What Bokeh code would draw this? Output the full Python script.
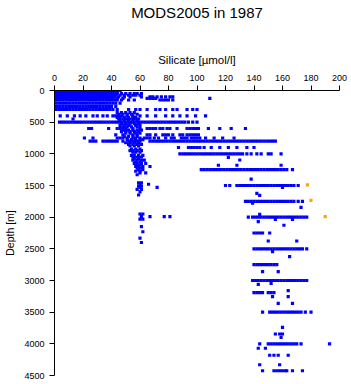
from bokeh.plotting import figure
from bokeh.models import FixedTicker, ColumnDataSource, LinearAxis
from bokeh.embed import file_html
from bokeh.resources import INLINE

# ---------------- data: silicate [umol/l] at sampled depths [m] ----------------
si_d0 = [0.5, 2, 3.5, 5, 7, 9, 11, 13, 15, 17, 19, 21, 23, 25, 27, 29, 31, 33, 35, 37, 39, 41, 43, 46]
si_d10 = [1, 2.5, 4, 6, 8, 10, 12, 14, 16, 18, 20, 22, 24, 26, 28, 30, 32, 34, 36, 38, 40, 42]
si_d20 = [0.5, 2, 4, 6, 8, 10, 12, 14, 16, 18, 20, 22, 24, 26, 28, 30, 32, 34, 36, 38, 40, 43]
si_d30 = [1, 3, 5, 7, 9, 11, 13, 15, 17, 19, 21, 23, 25, 27, 29, 31, 33, 35, 37, 39, 41, 44]
si_d50 = [0.5, 2, 4, 6, 8, 10, 12, 14, 16, 18, 20, 22, 24, 26, 28, 30, 32, 34, 36, 38, 40, 42, 44, 47, 50, 53, 56, 58, 61]
si_d75 = [1, 3, 5, 7, 9, 11, 13, 15, 17, 19, 21, 23, 25, 27, 29, 31, 33, 35, 37, 39, 41, 43, 46, 49, 52, 55, 57, 60]
si_d100 = [0.5, 2, 4, 6, 8, 10, 12, 14, 16, 18, 20, 22, 24, 26, 28, 30, 32, 34, 36, 38, 40, 42, 45, 49, 53, 61, 67, 69, 72, 75, 78, 81, 83]
si_d125 = [1, 3, 5, 7, 9, 11, 13, 15, 17, 19, 21, 23, 25, 27, 29, 31, 33, 35, 37, 39, 41, 44, 48, 65, 67, 69, 71, 109]
si_d150 = [0.5, 2, 4, 6, 8, 10, 12, 14, 16, 18, 20, 22, 24, 26, 28, 30, 32, 34, 36, 38, 40, 42, 44, 47, 52, 56, 74, 76, 78, 80, 83]
si_d200 = [1, 3, 5, 7, 9, 11, 13, 15, 17, 19, 21, 23, 25, 27, 29, 31, 33, 35, 37, 39, 41, 43, 46]
si_d250 = [0.5, 2, 4, 6, 8, 10, 12, 14, 16, 18, 20, 22, 24, 26, 28, 30, 32, 34, 36, 38, 40, 43]
si_d300 = [1, 3, 5, 7, 9, 11, 13, 15, 17, 19, 21, 23, 25, 27, 29, 31, 33, 35, 37, 39, 41, 44,
           52, 57, 60, 65, 71, 74, 78, 83, 86, 93, 97, 100]
si_d400 = [4, 9, 14, 18, 22, 27, 30, 34, 37, 41, 43, 45, 47, 51, 55, 60, 65, 71, 78, 83, 88, 93, 99, 106]
si_d500 = [3.5, 5.5, 7.5, 9.5, 11.5, 13.5, 15.5, 17.5, 19.5, 21.5, 23.5, 25.5, 27.5, 29.5, 31.5,
           33.5, 35.5, 37.5, 39.5, 41.5, 43.5, 45.5, 47.5, 49.5, 51.5, 53.5, 55.5, 57.5, 59.5, 61.5,
           63.5, 65.5, 67.5, 69.5, 71.5, 73.5, 75.5, 77.5, 79.5, 81.5, 83.5, 85.5, 87.5, 89.5, 91.5,
           94, 97, 100]
si_d600 = [24, 26, 38, 44, 46, 48, 50, 55, 60, 65, 67, 69, 71, 74, 76, 79, 81, 86, 93, 95, 97, 99, 101,
           108, 116, 124, 134]
si_d700 = [43, 48, 55, 58, 65, 67, 71, 76, 78, 80, 83, 88, 90, 93, 95, 97, 99, 101]
si_d750 = [21, 27, 44, 46, 48, 51, 56, 60, 63, 65, 67, 70, 73, 78, 82, 84, 89, 91, 93, 96, 98, 100, 102,
           106, 112, 118, 126]
si_d800 = [25, 27, 29, 34, 36, 38, 40, 42, 44, 48, 52, 54, 56, 58, 60, 67, 69, 71, 73, 75, 77, 79,
           81, 83, 85, 87, 89, 91, 93, 95, 97, 99, 101, 103, 105, 107, 109, 111, 113, 115, 117, 119,
           121, 123, 125, 127, 129, 131, 133, 135, 137, 139, 141, 143, 145, 147, 149, 151, 153, 155]
si_d900 = [87, 94, 96, 98, 100, 102, 105, 110, 116, 122, 128, 135, 140]
si_d1000 = [88, 90, 92, 94, 96, 98, 100, 102, 104, 106, 108, 110, 112, 114, 116, 118, 120, 122, 124,
            126, 128, 130, 132, 135, 138, 142, 145, 150, 152, 159]
si_d1250 = [103, 105, 107, 109, 111, 113, 115, 117, 119, 121, 123, 125, 127, 129, 131, 133, 135, 137,
            139, 141, 143, 145, 147, 149, 151, 153, 155, 157, 159, 161, 163, 167]
si_d1500 = [120, 123, 128, 130, 132, 134, 136, 138, 140, 142, 144, 146, 148, 150, 152, 154, 156, 158,
            160, 162, 164, 166, 168, 171]
si_d1750 = [134, 136, 138, 140, 142, 144, 146, 148, 150, 152, 154, 156, 158, 160, 162, 164, 166, 168, 171, 174]
si_d2000 = [136, 139, 141, 143, 145, 147, 149, 151, 153, 155, 157, 159, 161, 163, 165, 167, 169, 171,
            173, 175, 177]
si_d2500 = [140, 142, 144, 146, 148, 150, 152, 154, 156, 158, 160, 162, 164, 166, 168, 170, 172, 174, 177]
si_d2750 = [140, 142, 144, 146, 148, 150, 152, 154, 156]
si_d3000 = [139, 141, 143, 145, 147, 149, 151, 153, 155, 157, 159, 161, 163, 165, 167, 169, 171, 173,
            175, 177]
si_d3500 = [146, 151, 153, 155, 157, 159, 161, 163, 165, 167, 169, 171, 173, 176, 180]
si_d4000 = [144, 150, 152, 154, 156, 158, 160, 162, 164, 166, 168, 170, 173, 193]
si_d4425 = [146, 154, 156, 158, 160, 162, 163, 167, 174]

row_depths = [0, 10, 20, 30, 50, 75, 100, 125, 150, 200, 250, 300, 400, 500, 600, 700, 750, 800,
              900, 1000, 1250, 1500, 1750, 2000, 2500, 2750, 3000, 3500, 4000, 4425]
row_values = [si_d0, si_d10, si_d20, si_d30, si_d50, si_d75, si_d100, si_d125, si_d150, si_d200,
              si_d250, si_d300, si_d400, si_d500, si_d600, si_d700, si_d750, si_d800, si_d900,
              si_d1000, si_d1250, si_d1500, si_d1750, si_d2000, si_d2500, si_d2750, si_d3000,
              si_d3500, si_d4000, si_d4425]

# mid-depth column of samples (silicate ~45-65)
tail_si = [44, 47, 50, 53, 56, 45, 48, 51, 54, 58, 44, 46, 49, 52, 55, 57, 45, 48, 50, 53, 56, 59,
           46, 49, 52, 55, 58, 47, 50, 53, 56, 59, 46, 49, 52, 57, 60, 48, 51, 54, 58, 49, 52, 55,
           58, 61, 47, 50, 53, 56, 59, 50, 53, 57, 60, 49, 52, 55, 58, 51, 54, 57, 60, 62, 50, 53,
           56, 59, 52, 55, 58, 61, 53, 56, 59, 54, 57, 60, 53, 55, 58, 61, 55, 57, 60, 54, 56, 59,
           62, 55, 58, 61, 56, 59, 55, 58, 61, 63, 57, 60, 56, 58, 61, 64, 58, 60, 57, 59, 62, 67,
           58, 61, 59, 62, 57, 60, 60, 64, 58, 59, 61, 60, 66, 59, 61, 60, 72, 58, 61, 60, 59,
           60, 62, 61, 67, 77, 81, 60, 62, 61, 62, 60, 61]
tail_depth = [350, 350, 350, 350, 350, 375, 375, 375, 375, 375, 425, 425, 425, 425, 425, 425,
              450, 450, 450, 450, 450, 450, 475, 475, 475, 475, 475, 525, 525, 525, 525, 525,
              550, 550, 550, 550, 550, 575, 575, 575, 575, 625, 625, 625, 625, 625, 650, 650,
              650, 650, 650, 675, 675, 675, 675, 725, 725, 725, 725, 775, 775, 775, 775, 775,
              825, 825, 825, 825, 850, 850, 850, 850, 875, 875, 875, 925, 925, 925, 950, 950,
              950, 950, 975, 975, 975, 1025, 1025, 1025, 1025, 1050, 1050, 1050, 1075, 1075,
              1100, 1100, 1100, 1100, 1125, 1125, 1150, 1150, 1150, 1150, 1175, 1175, 1200,
              1200, 1200, 1200, 1225, 1225, 1250, 1250, 1275, 1275, 1300, 1300, 1330, 1460,
              1460, 1480, 1480, 1510, 1510, 1530, 1530, 1560, 1560, 1600, 1650, 1950, 1950,
              1990, 1990, 1990, 1990, 2030, 2030, 2150, 2230, 2330, 2400]

# scattered single samples in the deep water
extra_si = [13, 122, 130, 115, 128, 159, 138, 160, 142, 144, 139, 173, 144, 155, 167, 143, 161,
            140, 142, 144, 146, 151, 150, 170, 153, 165, 146, 157, 152, 143, 164, 140, 142, 144,
            146, 150, 152, 154, 153, 164, 157, 167, 160, 155, 158, 160, 159, 143, 148, 151, 154,
            157, 164, 144, 158]
extra_depth = [450, 1055, 1097, 1180, 1180, 1180, 1400, 1530, 1625, 1655, 1780, 1845, 1955,
               2037, 2037, 2071, 2128, 2250, 2250, 2250, 2250, 2250, 2376, 2376, 2545, 2624,
               2860, 2860, 3044, 3060, 3160, 3192, 3192, 3192, 3192, 3192, 3192, 3192, 3255,
               3255, 3360, 3360, 3740, 3845, 3845, 3845, 3897, 4070, 4070, 4180, 4180, 4180,
               4180, 4330, 4330]

# flagged samples (orange)
flag_si = [177.5, 180, 190]
flag_depth = [1490, 1735, 1990]

x_ticks = [0, 20, 40, 60, 80, 100, 120, 140, 160, 180, 200]
y_ticks = [0, 500, 1000, 1500, 2000, 2500, 3000, 3500, 4000, 4500]
title_text = "MODS2005 in 1987"

# ---------------- build ----------------
xs, ys = [], []
for d, vals in zip(row_depths, row_values):
    xs.extend(vals)
    ys.extend([d] * len(vals))
xs.extend(tail_si); ys.extend(tail_depth)
xs.extend(extra_si); ys.extend(extra_depth)

src = ColumnDataSource(dict(x=xs, y=ys))
src_flag = ColumnDataSource(dict(x=flag_si, y=flag_depth))

FONT = "Liberation Sans"

p = figure(frame_width=285, frame_height=285, x_range=(0, 200), y_range=(4500, 0),
           x_axis_location="above", output_backend="svg", toolbar_location=None,
           min_border_left=54, min_border_right=12, min_border_top=90, min_border_bottom=9)
p.outline_line_color = None
p.grid.visible = False
p.background_fill_color = "white"
p.border_fill_color = "white"

for ax in (p.xaxis[0], p.yaxis[0]):
    ax.axis_line_color = "black"
    ax.major_tick_line_color = "black"
    ax.minor_tick_line_color = None
    ax.major_tick_in = 0
    ax.major_tick_out = 5
    ax.major_label_text_font = FONT
    ax.major_label_text_font_size = "9px"
    ax.major_label_text_color = "black"
    ax.axis_label_text_font = FONT
    ax.axis_label_text_font_style = "normal"
    ax.axis_label_text_color = "black"
    ax.major_label_standoff = 5

p.xaxis.ticker = FixedTicker(ticks=x_ticks)
p.yaxis.ticker = FixedTicker(ticks=y_ticks)
p.xaxis.axis_label = "Silicate [\u00b5mol/l]"
p.yaxis.axis_label = "Depth [m]"
p.xaxis.axis_label_text_font_size = "11.5px"
p.yaxis.axis_label_text_font_size = "10.5px"
p.xaxis.axis_label_standoff = 6
p.yaxis.axis_label_standoff = 5

# chart title: carried by a tick-less outer axis so it sits at the top of the canvas
title_axis = LinearAxis(ticker=FixedTicker(ticks=[]), axis_line_color=None,
                        major_tick_line_color=None, minor_tick_line_color=None,
                        major_tick_out=0, major_tick_in=0, minor_tick_out=0,
                        axis_label=title_text, axis_label_standoff=30,
                        axis_label_text_font=FONT, axis_label_text_font_size="15px",
                        axis_label_text_font_style="normal", axis_label_text_color="black")
p.add_layout(title_axis, "above")

p.scatter("x", "y", source=src, marker="square", size=3.2, fill_color="#0000ff",
          line_color=None)
p.scatter("x", "y", source=src_flag, marker="square", size=3.2, fill_color="#ffa500",
          line_color=None)

open("out.html", "w").write(file_html(p, INLINE))
